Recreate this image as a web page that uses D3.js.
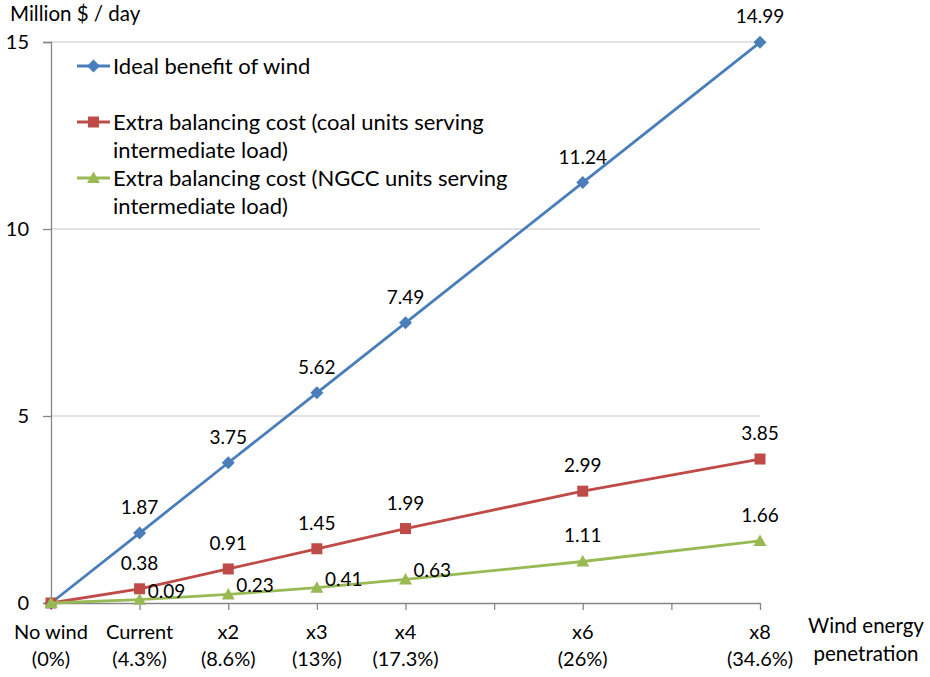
<!DOCTYPE html>
<html>
<head>
<meta charset="utf-8">
<script src="https://cdn.jsdelivr.net/npm/d3@7"></script>
<style>
  html, body { margin: 0; padding: 0; background: #fff; }
  svg { display: block; font-family: Lato, "Open Sans", sans-serif; }
</style>
</head>
<body>
<svg id="chart" width="930" height="677"></svg>
<script>
// Penetration multiplier used as the x position of each scenario
const multipliers = [0, 1, 2, 3, 4, 6, 8];
const scenarioNames = ["No wind", "Current", "x2", "x3", "x4", "x6", "x8"];
const scenarioShares = ["(0%)", "(4.3%)", "(8.6%)", "(13%)", "(17.3%)", "(26%)", "(34.6%)"];

// Million $ per day
const idealBenefit = [0, 1.87, 3.75, 5.62, 7.49, 11.24, 14.99];
const coalBalancing = [0, 0.38, 0.91, 1.45, 1.99, 2.99, 3.85];
const ngccBalancing = [0, 0.09, 0.23, 0.41, 0.63, 1.11, 1.66];

const yTicks = [0, 5, 10, 15];

const series = [
  { name: "Ideal benefit of wind", lines: ["Ideal benefit of wind"],
    values: idealBenefit, color: "#4A7EBB", marker: "diamond", labelPos: ["", "above", "above", "above", "above", "above", "above"] },
  { name: "Extra balancing cost (coal units serving intermediate load)",
    lines: ["Extra balancing cost (coal units serving", "intermediate load)"],
    values: coalBalancing, color: "#BE4B48", marker: "square", labelPos: ["", "above", "above", "above", "above", "above", "above"] },
  { name: "Extra balancing cost (NGCC units serving intermediate load)",
    lines: ["Extra balancing cost (NGCC units serving", "intermediate load)"],
    values: ngccBalancing, color: "#98B954", marker: "triangle", labelPos: ["", "right", "right", "right", "right", "above", "above"] }
];

const svg = d3.select("#chart");
const x = d3.scaleLinear().domain([0, 8]).range([51, 760]);
const y = d3.scaleLinear().domain([0, 15]).range([603, 42]);
const labelSize = 19;
const tickSize = 20;
const titleSize = 20.5;
const legendSize = 22;

// Horizontal gridlines
svg.append("g").selectAll("line").data(yTicks.filter(d => d > 0)).join("line")
  .attr("x1", x(0)).attr("x2", x(8))
  .attr("y1", d => y(d)).attr("y2", d => y(d))
  .attr("stroke", "#d9d9d9").attr("stroke-width", 1.3);

// Y axis
const yAxis = svg.append("g").attr("transform", `translate(${x(0)},0)`)
  .call(d3.axisLeft(y).tickValues(yTicks).tickSize(8).tickPadding(14).tickFormat(d3.format("d")));
yAxis.select(".domain").attr("stroke", "#868686").attr("stroke-width", 1.3);
yAxis.selectAll(".tick line").attr("stroke", "#868686").attr("stroke-width", 1.3);
yAxis.selectAll(".tick text").attr("font-size", tickSize).attr("fill", "#000")
  .attr("font-family", "Lato, sans-serif");

// X axis: a tick at each multiplier step, labels only for the scenarios
const xAxis = svg.append("g").attr("transform", `translate(0,${y(0)})`)
  .call(d3.axisBottom(x).tickValues(d3.range(0, 9)).tickSize(7).tickSizeOuter(0).tickFormat(""));
xAxis.select(".domain").attr("stroke", "#868686").attr("stroke-width", 1.3);
xAxis.selectAll(".tick line").attr("stroke", "#868686").attr("stroke-width", 1.3);

const xLabels = svg.append("g").selectAll("text").data(multipliers).join("text")
  .attr("x", d => x(d)).attr("y", 639)
  .attr("text-anchor", "middle").attr("font-size", tickSize).attr("fill", "#000");
xLabels.append("tspan").attr("x", d => x(d)).text((d, i) => scenarioNames[i]);
xLabels.append("tspan").attr("x", d => x(d)).attr("dy", 27).text((d, i) => scenarioShares[i]);

// Axis titles
svg.append("text").attr("x", 10).attr("y", 21).attr("font-size", titleSize).attr("fill", "#000")
  .text("Million $ / day");
const xTitle = svg.append("text").attr("x", 866).attr("y", 633).attr("text-anchor", "middle")
  .attr("font-size", titleSize).attr("fill", "#000");
xTitle.append("tspan").attr("x", 866).text("Wind energy");
xTitle.append("tspan").attr("x", 866).attr("dy", 28).text("penetration");

// Marker shapes
function markerPath(type) {
  if (type === "diamond") return "M0,-6.5L6.5,0L0,6.5L-6.5,0Z";
  if (type === "square") return "M-5.5,-5.5H5.5V5.5H-5.5Z";
  return "M0,-6.5L6.5,5L-6.5,5Z";
}

const line = d3.line().x((d, i) => x(multipliers[i])).y(d => y(d));

series.forEach(s => {
  const g = svg.append("g");
  g.append("path").datum(s.values).attr("d", line)
    .attr("fill", "none").attr("stroke", s.color).attr("stroke-width", 2.8)
    .attr("stroke-linejoin", "round");
  g.selectAll("path.mk").data(s.values).join("path").attr("class", "mk")
    .attr("transform", (d, i) => `translate(${x(multipliers[i])},${y(d)})`)
    .attr("d", markerPath(s.marker)).attr("fill", s.color);
  g.selectAll("text").data(s.values.map((v, i) => ({ v, i })).filter(d => s.labelPos[d.i] !== ""))
    .join("text")
    .attr("x", d => s.labelPos[d.i] === "right" ? x(multipliers[d.i]) + 8 : x(multipliers[d.i]))
    .attr("y", d => s.labelPos[d.i] === "right" ? y(d.v) - 2 : y(d.v) - 19)
    .attr("text-anchor", d => s.labelPos[d.i] === "right" ? "start" : "middle")
    .attr("font-size", labelSize).attr("fill", "#000")
    .text(d => d3.format(".2f")(d.v));
});

// Legend
const legendRows = [66, 122, 178];
series.forEach((s, k) => {
  const g = svg.append("g").attr("transform", `translate(0,${legendRows[k]})`);
  g.append("line").attr("x1", 77).attr("x2", 110).attr("y1", 0).attr("y2", 0)
    .attr("stroke", s.color).attr("stroke-width", 2.8);
  g.append("path").attr("transform", "translate(93.5,0)").attr("d", markerPath(s.marker)).attr("fill", s.color);
  const t = g.append("text").attr("x", 113).attr("y", 8).attr("font-size", legendSize).attr("fill", "#000");
  s.lines.forEach((ln, j) => t.append("tspan").attr("x", 113).attr("dy", j === 0 ? 0 : 28).text(ln));
});
</script>
</body>
</html>
